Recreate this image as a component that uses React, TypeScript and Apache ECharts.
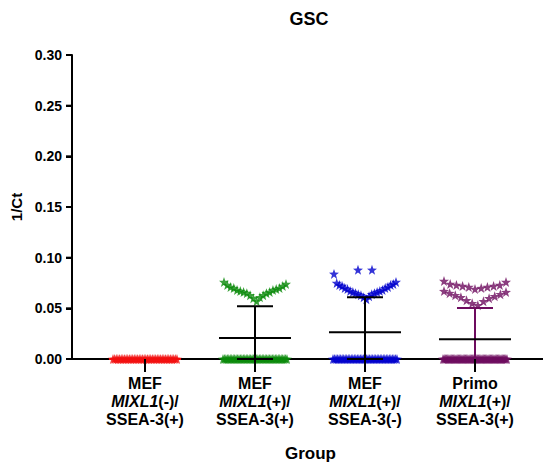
import React, { useEffect, useRef } from "react";
import * as echarts from "echarts";

// ---- data ----
const groupTop = ["MEF", "MEF", "MEF", "Primo"];
const groupGene = ["MIXL1", "MIXL1", "MIXL1", "MIXL1"];
const groupGeneSign = ["(-)/", "(+)/", "(+)/", "(+)/"];
const groupBottom = ["SSEA-3(+)", "SSEA-3(+)", "SSEA-3(-)", "SSEA-3(+)"];

const groupColors = ["#f20d0d", "#0a8a0a", "#0000cd", "#6e0c5f"];
const errorColors = ["#f20d0d", "#000000", "#000000", "#6e0c5f"];
const meanColors = ["#f20d0d", "#000000", "#000000", "#000000"];

const yTicks = [0, 0.05, 0.1, 0.15, 0.2, 0.25, 0.3];

// number of samples at 1/Ct = 0 in each group
const zeroCounts = [40, 45, 43, 55];

// non-zero samples, by visual row
const redRows: number[][] = [];
const greenRows: number[][] = [
  [0.057, 0.060, 0.061, 0.063, 0.063, 0.065, 0.065, 0.066, 0.066, 0.067,
   0.068, 0.068, 0.069, 0.070, 0.070, 0.071, 0.072, 0.073, 0.074, 0.076],
];
const blueRows: number[][] = [
  [0.059, 0.061, 0.062, 0.063, 0.064, 0.064, 0.065, 0.065, 0.066, 0.066,
   0.067, 0.067, 0.068, 0.069, 0.070, 0.070, 0.071, 0.072, 0.073, 0.073,
   0.074, 0.075, 0.076, 0.084],
  [0.088, 0.088],
];
const purpleRows: number[][] = [
  [0.053, 0.055, 0.057, 0.058, 0.060, 0.061, 0.062, 0.063, 0.064, 0.065, 0.066, 0.067],
  [0.069, 0.070, 0.071, 0.071, 0.072, 0.072, 0.073, 0.073, 0.074, 0.076, 0.077],
];
const groupRows = [redRows, greenRows, blueRows, purpleRows];

const STAR =
  "path://M0,-10 L2.35,-3.24 L9.51,-3.09 L3.8,1.24 L5.88,8.09 L0,4 L-5.88,8.09 L-3.8,1.24 L-9.51,-3.09 L-2.35,-3.24 Z";

const FONT = "'Liberation Sans', Arial, Helvetica, sans-serif";

const X_MIN = 0.3364;
const X_MAX = 4.6182;

// arrange a row of values: lowest at centre, alternating outward
function rowLayout(values: number[], halfWidth: number, maxStep: number) {
  const n = values.length;
  if (n === 0) return [] as { v: number; dx: number }[];
  const step = n > 1 ? Math.min(maxStep, (2 * halfWidth) / (n - 1)) : 0;
  const slots: number[] = [];
  for (let k = 0; k < n; k++) slots.push((k - (n - 1) / 2) * step);
  slots.sort((a, b) => Math.abs(a) - Math.abs(b) || b - a);
  const sorted = [...values].sort((a, b) => a - b);
  return sorted.map((v, i) => ({ v, dx: slots[i] }));
}

function zeroLayout(count: number, halfWidth: number) {
  const out: { v: number; dx: number }[] = [];
  for (let k = 0; k < count; k++) {
    out.push({ v: 0, dx: count > 1 ? -halfWidth + (2 * halfWidth * k) / (count - 1) : 0 });
  }
  return out;
}

export default function App() {
  const ref = useRef<HTMLDivElement>(null);
  useEffect(() => {
    if (!ref.current) return;
    const chart = echarts.init(ref.current, undefined, { renderer: "svg" });

    // group g is drawn at x position g + 1
    const scatterSeries = groupRows.map((rows, g) => {
      const pts = [
        ...zeroLayout(zeroCounts[g], 32),
        ...rows.flatMap((r) => rowLayout(r, 31, 14)),
      ];
      return {
        type: "scatter",
        name: "g" + g,
        symbol: STAR,
        symbolSize: 10,
        itemStyle: { color: groupColors[g] },
        z: 2,
        data: pts.map((p) => ({ value: [g + 1, p.v], symbolOffset: [p.dx, 0] })),
      };
    });

    const stats = groupRows.map((rows, g) => {
      const all: number[] = [];
      for (let k = 0; k < zeroCounts[g]; k++) all.push(0);
      rows.forEach((r) => all.push(...r));
      const n = all.length;
      const mean = all.reduce((a, b) => a + b, 0) / n;
      const sd = Math.sqrt(all.reduce((a, b) => a + (b - mean) * (b - mean), 0) / (n - 1));
      return [g + 1, mean, sd];
    });

    const errorSeries = {
      type: "custom",
      z: 5,
      clip: false,
      data: stats,
      renderItem: (params: any, api: any) => {
        const g = api.value(0);
        const m = api.value(1);
        const sd = api.value(2);
        const i = params.dataIndex;
        const c = api.coord([g, m]);
        const top = api.coord([g, m + sd]);
        const bot = api.coord([g, Math.max(m - sd, 0)]);
        const sc = errorColors[i];
        const lw = 2;
        return {
          type: "group",
          children: [
            { type: "line", shape: { x1: c[0], y1: top[1], x2: c[0], y2: bot[1] }, style: { stroke: sc, lineWidth: lw } },
            { type: "line", shape: { x1: c[0] - 18, y1: top[1], x2: c[0] + 18, y2: top[1] }, style: { stroke: sc, lineWidth: lw } },
            { type: "line", shape: { x1: c[0] - 18, y1: bot[1], x2: c[0] + 18, y2: bot[1] }, style: { stroke: sc, lineWidth: lw } },
            { type: "line", shape: { x1: c[0] - 36, y1: c[1], x2: c[0] + 36, y2: c[1] }, style: { stroke: meanColors[i], lineWidth: lw } },
          ],
        };
      },
    };

    const catIdx = groupTop.map((_, i) => i + 1);

    chart.setOption({
      animation: false,
      title: {
        text: "GSC",
        left: 309,
        top: 10,
        textAlign: "center",
        padding: 0,
        textStyle: { fontFamily: FONT, fontWeight: "bold", fontSize: 18, color: "#000" },
      },
      grid: { left: 72, right: 0, top: 55, bottom: 109, containLabel: false },
      xAxis: {
        type: "value",
        min: X_MIN,
        max: X_MAX,
        splitLine: { show: false },
        axisLine: { show: true, lineStyle: { color: "#000", width: 2 } },
        axisTick: { show: false },
        axisLabel: {
          show: true,
          customValues: catIdx,
          margin: 15,
          fontFamily: FONT,
          fontWeight: "bold",
          fontSize: 16,
          lineHeight: 18,
          color: "#000",
          formatter: (v: number) => {
            const i = Math.round(v) - 1;
            return `${groupTop[i]}\n{i|${groupGene[i]}}${groupGeneSign[i]}\n${groupBottom[i]}`;
          },
          rich: {
            i: { fontFamily: FONT, fontStyle: "italic", fontWeight: "bold", fontSize: 16, lineHeight: 18, color: "#000" },
          },
        },
        name: "Group",
        nameLocation: "middle",
        nameGap: 86,
        nameTextStyle: { fontFamily: FONT, fontWeight: "bold", fontSize: 17, color: "#000", padding: [0, 0, 0, 6] },
      },
      yAxis: {
        type: "value",
        min: 0,
        max: 0.3,
        interval: 0.05,
        splitLine: { show: false },
        axisLine: { show: true, lineStyle: { color: "#000", width: 2 } },
        axisTick: { show: true, length: 6, lineStyle: { color: "#000", width: 2 } },
        axisLabel: {
          margin: 10,
          fontFamily: FONT,
          fontWeight: "bold",
          fontSize: 14,
          color: "#000",
          formatter: (v: number) => v.toFixed(2),
        },
        name: "1/Ct",
        nameLocation: "middle",
        nameGap: 43,
        nameTextStyle: { fontFamily: FONT, fontWeight: "bold", fontSize: 15, color: "#000" },
      },
      series: [...scatterSeries, errorSeries],
    } as any);

    // axis line and ticks placed through the chart's own scales
    const toPx = (x: number, y: number) =>
      chart.convertToPixel({ gridIndex: 0 } as any, [x, y]) as number[];
    const base = toPx(X_MIN, 0);
    const topPt = toPx(X_MIN, yTicks[yTicks.length - 1]);
    const axisStyle = { stroke: "#000", lineWidth: 2 };
    const elements: any[] = [
      { type: "line", z: 100, shape: { x1: base[0], y1: base[1] + 1, x2: topPt[0], y2: topPt[1] }, style: axisStyle },
    ];
    yTicks.forEach((t) => {
      const p = toPx(X_MIN, t);
      elements.push({ type: "line", z: 100, shape: { x1: p[0] - 6, y1: p[1], x2: p[0], y2: p[1] }, style: axisStyle });
    });
    catIdx.forEach((c) => {
      const p = toPx(c, 0);
      elements.push({ type: "line", z: 100, shape: { x1: p[0], y1: p[1], x2: p[0], y2: p[1] + 13 }, style: axisStyle });
    });
    chart.setOption({ graphic: elements } as any);

    return () => chart.dispose();
  }, []);

  return (
    <div
      ref={ref}
      style={{ position: "fixed", left: 0, top: 0, width: 543, height: 468, background: "#fff" }}
    />
  );
}
